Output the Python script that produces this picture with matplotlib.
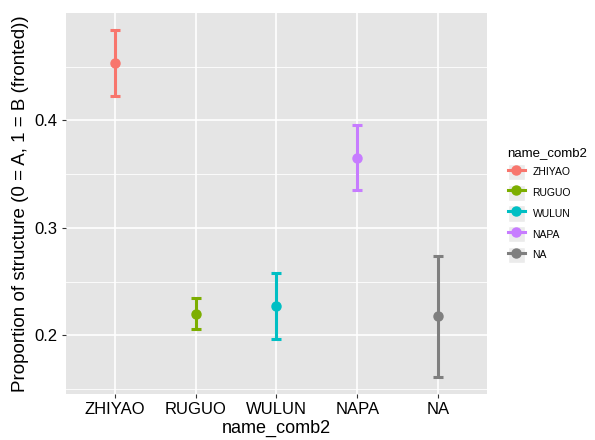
import numpy as np
import matplotlib
matplotlib.use("Agg")
import matplotlib.pyplot as plt
from matplotlib.lines import Line2D
from matplotlib.patches import Rectangle
from matplotlib.legend_handler import HandlerTuple

# values
groups = ["ZHIYAO", "RUGUO", "WULUN", "NAPA", "NA"]
means = [0.4536, 0.2201, 0.2272, 0.3650, 0.2176]
lower = [0.4226, 0.2058, 0.1966, 0.3350, 0.1616]
upper = [0.4838, 0.2344, 0.2578, 0.3956, 0.2739]
colors = ["#F8766D", "#7CAE00", "#00BFC4", "#C77CFF", "#7F7F7F"]

plt.rcParams['font.family'] = ['Liberation Sans', 'DejaVu Sans']

fig = plt.figure(figsize=(5.95, 4.4), dpi=100)
ax = fig.add_axes([0.1109, 0.1045, 0.7076, 0.866])
ax.set_facecolor("#E5E5E5")

x = np.arange(len(groups))
for i in range(len(groups)):
    ax.errorbar(x[i], means[i],
                yerr=[[means[i] - lower[i]], [upper[i] - means[i]]],
                fmt='o', color=colors[i], ms=6.5, elinewidth=2.2,
                capsize=3.5, capthick=2.2, zorder=3)

# ggplot style scales (5% expansion on y, 0.6 on discrete x)
lo, hi = min(lower), max(upper)
pad = (hi - lo) * 0.05
ax.set_ylim(lo - pad, hi + pad)
ax.set_xlim(-0.6, len(groups) - 1 + 0.6)
ax.set_xticks(x)
ax.set_xticklabels(groups)
ax.set_yticks([0.2, 0.3, 0.4])
ax.set_yticklabels(["0.2", "0.3", "0.4"])
ax.set_yticks([0.15, 0.25, 0.35, 0.45], minor=True)

ax.grid(which='major', color='white', linewidth=1.2)
ax.grid(which='minor', axis='y', color='white', linewidth=0.6)
ax.set_axisbelow(True)
for s in ax.spines.values():
    s.set_visible(False)
ax.tick_params(which='major', length=3, width=0.8, color='#333333',
               labelsize=12, labelcolor='black', pad=3)
ax.tick_params(which='minor', length=0)

ax.set_xlabel("name_comb2", fontsize=13, labelpad=2)
ax.set_ylabel("Proportion of structure (0 = A, 1 = B (fronted))", fontsize=13.5, labelpad=4)

# legend keys: grey square with a line + point, like ggplot
handles = []
for c in colors:
    bg = Rectangle((0, 0), 1, 1, facecolor="#EBEBEB", edgecolor="white", lw=1)
    ln = Line2D([0], [0], color=c, marker='o', ms=6.5, lw=2.2)
    handles.append((bg, ln))
leg = fig.legend(handles, groups, title="name_comb2", loc='upper left',
                 bbox_to_anchor=(0.846, 0.675), frameon=False, fontsize=7.5,
                 title_fontsize=9.5, handlelength=1.7, handleheight=2.0,
                 handletextpad=0.7, labelspacing=0.45, borderaxespad=0,
                 handler_map={tuple: HandlerTuple(ndivide=1, pad=0)})
leg._legend_box.align = "left"

fig.savefig("out.png", dpi=100)
